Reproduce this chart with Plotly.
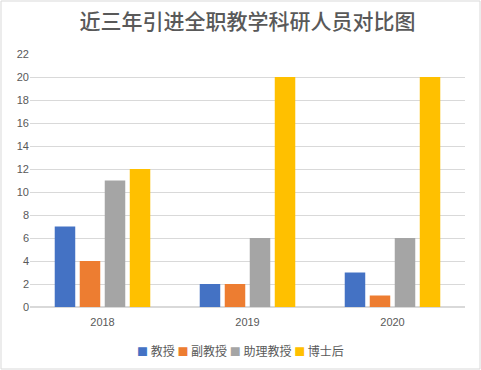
import plotly.graph_objects as go

years = ["2018", "2019", "2020"]
professor = [7, 2, 3]
assoc_professor = [4, 2, 1]
assist_professor = [11, 6, 6]
postdoc = [12, 20, 20]

series = [
    ("教授", professor, "#4472C4"),
    ("副教授", assoc_professor, "#ED7D31"),
    ("助理教授", assist_professor, "#A5A5A5"),
    ("博士后", postdoc, "#FFC000"),
]

W, H = 481, 370
L, R, T, B = 30, 16, 54, 63
pw = W - L - R
ph = H - T - B

fig = go.Figure()
for name, vals, color in series:
    fig.add_trace(go.Bar(x=years, y=vals, name=name, marker_color=color,
                         marker_line_width=0, showlegend=False))

# compact Excel-style legend as one line of text
legend_text = " ".join(
    f'<span style="color:{c};font-size:11px">■</span> {n}' for n, _, c in series
)
fig.add_annotation(
    text=legend_text, xref="paper", yref="paper",
    x=(240 - L) / pw, y=-(350 - (H - B)) / ph,
    xanchor="center", yanchor="middle", showarrow=False,
    font=dict(family="Noto Sans CJK SC", size=12, color="#595959"),
)

# light border round the whole chart
fig.add_shape(
    type="rect", xref="paper", yref="paper",
    x0=-(L - 1) / pw, x1=1 + (R - 1) / pw,
    y0=-(B - 1) / ph, y1=1 + (T - 1) / ph,
    line=dict(color="#D9D9D9", width=1), fillcolor="rgba(0,0,0,0)",
)

fig.update_layout(
    width=W, height=H,
    margin=dict(l=L, r=R, t=T, b=B, autoexpand=False),
    paper_bgcolor="white", plot_bgcolor="white",
    barmode="group", bargap=0.31, bargroupgap=0.18,
    title=dict(text="近三年引进全职教学科研人员对比图", x=0.5, xref="paper",
               y=1 - 22 / H, yanchor="middle",
               font=dict(family="Noto Sans CJK SC", size=21, color="#595959", weight=500)),
    font=dict(family="Liberation Sans, Noto Sans CJK SC", size=11, color="#595959"),
    showlegend=False,
)
fig.update_yaxes(range=[0, 22], dtick=2, showgrid=True, gridcolor="#D9D9D9", gridwidth=1,
                 zeroline=True, zerolinecolor="#D9D9D9", ticks="", showline=False,
                 automargin=False, tickfont=dict(size=11, color="#595959"))
fig.update_xaxes(showline=False, ticks="", automargin=False, ticklabelstandoff=7,
                 tickfont=dict(size=11, color="#595959"))

# drop the browser's default body margin so the chart sits at the page corner
fig.write_html("out.html", config={"displayModeBar": False},
               post_script="document.body.style.margin='0';")
